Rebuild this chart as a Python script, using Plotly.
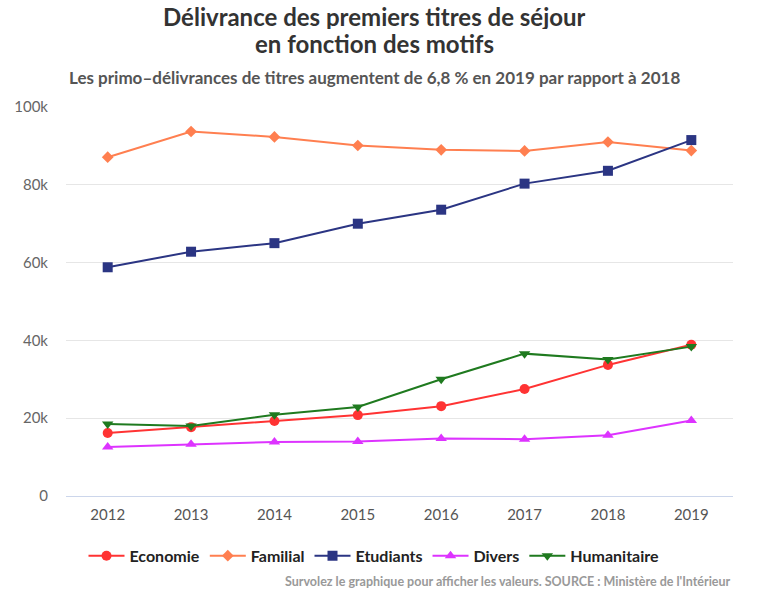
import plotly.graph_objects as go

years = ["2012", "2013", "2014", "2015", "2016", "2017", "2018", "2019"]
economie = [16200, 17700, 19300, 20800, 23100, 27500, 33700, 38900]
familial = [87100, 93700, 92300, 90100, 89000, 88700, 91000, 88800]
etudiants = [58800, 62800, 65000, 70000, 73600, 80300, 83600, 91500]
divers = [12600, 13300, 13900, 14000, 14800, 14600, 15600, 19400]
humanitaire = [18500, 18000, 20900, 22900, 30000, 36600, 35100, 38400]

series = [
    ("Economie", economie, "#ff3333", "circle"),
    ("Familial", familial, "#ff7f50", "diamond"),
    ("Etudiants", etudiants, "#2b3583", "square"),
    ("Divers", divers, "#dd33ff", "triangle-up"),
    ("Humanitaire", humanitaire, "#1f7a1f", "triangle-down"),
]

FONT = "Lato, Open Sans, sans-serif"

fig = go.Figure()
for name, vals, color, sym in series:
    fig.add_trace(go.Scatter(
        x=years, y=vals, name="<b>" + name + "</b>", mode="lines+markers",
        line=dict(color=color, width=2),
        marker=dict(color=color, symbol=sym, size=10 if sym != "diamond" else 9),
    ))

TX = (374 - 66) / 667

fig.update_layout(
    width=761, height=605,
    paper_bgcolor="white", plot_bgcolor="white",
    margin=dict(l=66, r=28, t=107, b=109),
    font=dict(family=FONT, color="#666666", size=13),
    showlegend=True,
    legend=dict(
        orientation="h", x=TX, xanchor="center", y=-0.11, yanchor="top",
        font=dict(family=FONT, size=16, color="#222222"),
        traceorder="normal", itemwidth=36,
    ),
    xaxis=dict(
        type="category", range=[-0.5, 7.5],
        showgrid=False, showline=True, linecolor="#ccd6eb", linewidth=1,
        ticks="", tickfont=dict(size=15, color="#555555"),
        ticklabelstandoff=5,
    ),
    yaxis=dict(
        range=[0, 100000], tickvals=[0, 20000, 40000, 60000, 80000, 100000],
        ticktext=["0", "20k", "40k", "60k", "80k", "100k"],
        showgrid=True, gridcolor="#e6e6e6", zeroline=False,
        tickfont=dict(size=15, color="#666666"),
        ticklabelstandoff=17,
    ),
    annotations=[
        dict(text="<b>Délivrance des premiers titres de séjour</b>",
             xref="paper", yref="paper", x=TX, y=1.0, yshift=107 - 16, xanchor="center", yanchor="middle",
             height=26, showarrow=False, font=dict(family=FONT, size=24, color="#333333")),
        dict(text="<b>en fonction des motifs</b>",
             xref="paper", yref="paper", x=TX, y=1.0, yshift=107 - 43, xanchor="center", yanchor="middle",
             height=26, showarrow=False, font=dict(family=FONT, size=24, color="#333333")),
        dict(text="<b>Les primo–délivrances de titres augmentent de 6,8 % en 2019 par rapport à 2018</b>",
             xref="paper", yref="paper", x=TX, y=1.0, yshift=107 - 77, xanchor="center", yanchor="middle",
             showarrow=False, font=dict(family=FONT, size=17, color="#555555")),
        dict(text="<b>Survolez le graphique pour afficher les valeurs. SOURCE : Ministère de l'Intérieur</b>",
             xref="paper", yref="paper", x=1.0, y=-0.221, xanchor="right", yanchor="middle",
             showarrow=False, font=dict(family=FONT, size=12.5, color="#999999")),
    ],
)

fig.write_html("out.html")
